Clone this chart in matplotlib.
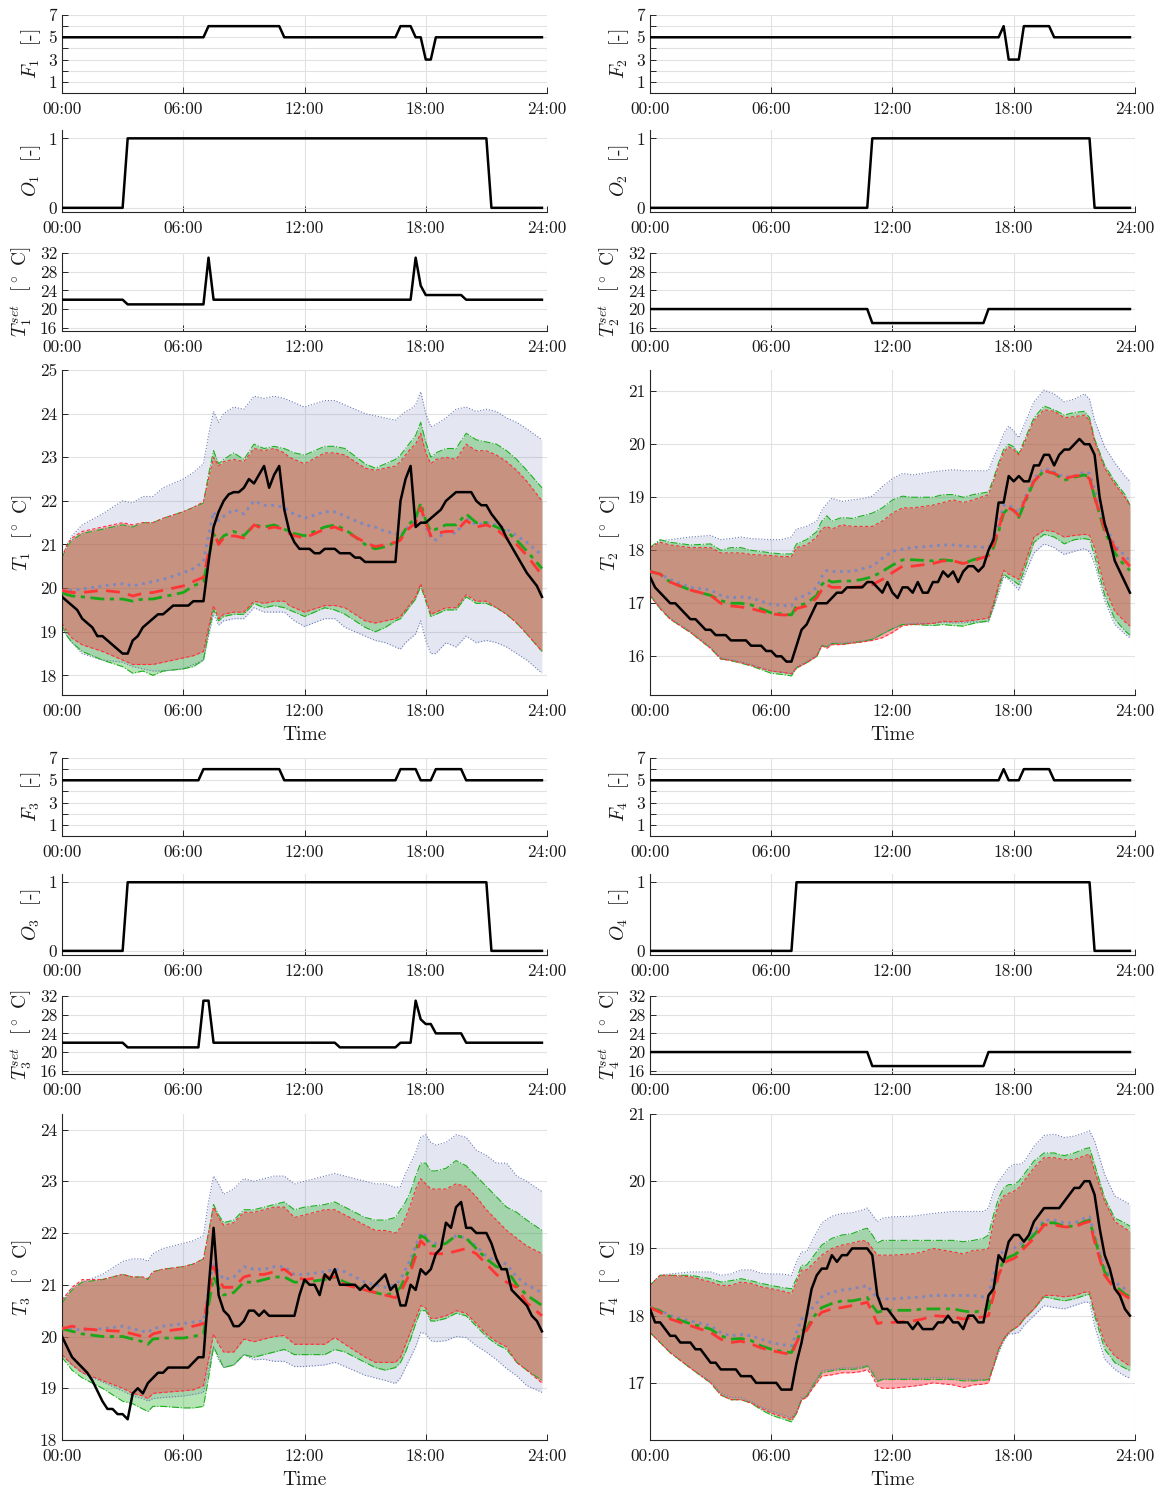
import numpy as np
import matplotlib
matplotlib.use("Agg")
import matplotlib.pyplot as plt

plt.rcParams["font.family"] = ["cmr10", "DejaVu Serif"]
plt.rcParams["mathtext.fontset"] = "cm"
plt.rcParams["axes.unicode_minus"] = False
plt.rcParams["axes.formatter.use_mathtext"] = True

# ---------------- data ----------------
t15 = np.arange(96) * 0.25          # 15-min samples 00:00 .. 23:45
time_ticks = [0, 6, 12, 18, 24]
time_labels = ["00:00", "06:00", "12:00", "18:00", "24:00"]

# step signals: levels and number of 15-min samples
F1_lv = [5, 6, 5, 6, 5, 3, 5];            F1_n = [29, 15, 23, 3, 2, 2, 22]
F2_lv = [5, 6, 3, 6, 5];                  F2_n = [70, 1, 3, 6, 16]
F3_lv = [5, 6, 5, 6, 5, 6, 5];            F3_n = [28, 16, 23, 4, 3, 6, 16]
F4_lv = [5, 6, 5, 6, 5];                  F4_n = [70, 1, 3, 6, 16]
O1_lv = [0, 1, 0];                        O1_n = [13, 72, 11]
O2_lv = [0, 1, 0];                        O2_n = [44, 44, 8]
O3_lv = [0, 1, 0];                        O3_n = [13, 72, 11]
O4_lv = [0, 1, 0];                        O4_n = [29, 59, 8]
S1_lv = [22, 21, 31, 22, 31, 25, 23, 22]; S1_n = [13, 16, 1, 40, 1, 1, 8, 16]
S2_lv = [20, 17, 20];                     S2_n = [44, 23, 29]
S3_lv = [22, 21, 31, 22, 21, 22, 31, 27, 26, 24, 22]
S3_n = [13, 15, 2, 25, 12, 3, 1, 1, 2, 6, 16]
S4_lv = [20, 17, 20];                     S4_n = [44, 23, 29]

# ---- zone 1 ----
T1_t = [0, 0.25, 0.5, 1, 2, 3, 3.5, 4, 4.5, 5, 6, 6.5, 7, 7.25, 7.5, 7.75, 8, 8.5, 9, 9.5,
        10, 10.5, 11, 11.25, 11.5, 12, 13, 13.5, 14, 15, 15.5, 16, 16.5, 16.75, 17, 17.25, 17.5, 17.75, 18, 18.25,
        18.5, 19, 19.5, 20, 20.5, 21, 21.5, 22, 22.5, 23, 23.75]
T1_blue_hi = [20.7, 21.0, 21.2, 21.45, 21.7, 22.0, 21.95, 22.1, 22.1, 22.3,
              22.5, 22.65, 22.85, 23.5, 24.05, 23.8, 24.0, 24.15, 24.1, 24.4,
              24.35, 24.4, 24.35, 24.3, 24.25, 24.15, 24.3, 24.3, 24.2, 24.0,
              23.95, 23.9, 23.85, 23.95, 24.05, 24.1, 24.2, 24.5, 24.0, 23.7,
              23.75, 23.9, 24.1, 24.15, 24.05, 24.1, 24.05, 23.9, 23.8, 23.65, 23.4]
T1_green_hi = [20.7, 20.95, 21.1, 21.25, 21.35, 21.45, 21.4, 21.5, 21.5, 21.6,
               21.75, 21.85, 21.95, 22.6, 23.15, 22.85, 22.95, 23.1, 22.95, 23.3,
               23.2, 23.25, 23.2, 23.15, 23.1, 23.05, 23.25, 23.25, 23.2, 22.85,
               22.75, 22.85, 22.95, 23.05, 23.2, 23.35, 23.5, 23.8, 23.35, 23.0,
               23.1, 23.2, 23.2, 23.55, 23.4, 23.35, 23.3, 23.15, 22.95, 22.7, 22.3]
T1_red_hi = [20.7, 21.0, 21.15, 21.3, 21.4, 21.5, 21.45, 21.5, 21.5, 21.6,
             21.75, 21.85, 21.98, 22.5, 23.0, 22.8, 22.9, 22.95, 22.9, 23.2,
             23.15, 23.2, 23.1, 23.0, 22.95, 22.85, 23.1, 23.1, 23.05, 22.75,
             22.7, 22.75, 22.8, 22.9, 23.05, 23.2, 23.3, 23.55, 23.1, 22.85,
             22.95, 23.0, 22.95, 23.3, 23.15, 23.15, 23.05, 22.9, 22.7, 22.45, 22.0]
T1_blue_lo = [19.1, 18.9, 18.75, 18.5, 18.35, 18.3, 18.2, 18.15, 18.1, 18.1,
              18.15, 18.25, 18.35, 18.9, 19.4, 19.15, 19.25, 19.3, 19.3, 19.55,
              19.45, 19.45, 19.45, 19.35, 19.25, 19.12, 19.3, 19.3, 19.1, 18.9,
              18.8, 18.75, 18.65, 18.6, 18.75, 18.85, 18.95, 19.25, 18.8, 18.5,
              18.5, 18.75, 18.65, 18.9, 18.75, 18.8, 18.75, 18.65, 18.5, 18.35, 18.05]
T1_green_lo = [19.15, 18.9, 18.75, 18.55, 18.35, 18.2, 18.05, 18.1, 18.0, 18.1,
               18.15, 18.2, 18.35, 19.0, 19.5, 19.25, 19.35, 19.4, 19.4, 19.65,
               19.55, 19.6, 19.55, 19.5, 19.45, 19.35, 19.55, 19.5, 19.4, 19.1,
               19.0, 19.1, 19.25, 19.3, 19.45, 19.6, 19.75, 20.05, 19.7, 19.35,
               19.4, 19.5, 19.5, 19.8, 19.65, 19.65, 19.55, 19.4, 19.2, 18.95, 18.55]
T1_red_lo = [19.2, 19.0, 18.85, 18.7, 18.55, 18.35, 18.25, 18.25, 18.25, 18.3,
             18.4, 18.45, 18.55, 19.1, 19.6, 19.3, 19.4, 19.45, 19.45, 19.7,
             19.65, 19.7, 19.7, 19.6, 19.55, 19.45, 19.6, 19.6, 19.55, 19.25,
             19.2, 19.25, 19.3, 19.35, 19.5, 19.65, 19.8, 20.1, 19.75, 19.4,
             19.45, 19.55, 19.55, 19.85, 19.7, 19.7, 19.55, 19.4, 19.2, 18.95, 18.55]
T1_red_mean = [19.95, 19.92, 19.9, 19.9, 19.95, 19.9, 19.82, 19.88, 19.9, 19.95,
               20.05, 20.15, 20.25, 20.8, 21.3, 21.0, 21.15, 21.2, 21.15, 21.45,
               21.35, 21.4, 21.35, 21.25, 21.2, 21.15, 21.35, 21.4, 21.3, 21.05,
               20.95, 21.0, 21.05, 21.1, 21.3, 21.4, 21.5, 21.85, 21.5, 21.2,
               21.25, 21.3, 21.3, 21.55, 21.4, 21.45, 21.35, 21.15, 21.0, 20.75, 20.3]
T1_green_mean = [19.9, 19.85, 19.82, 19.8, 19.75, 19.75, 19.7, 19.75, 19.75, 19.8,
                 19.9, 20.05, 20.15, 20.7, 21.25, 21.05, 21.2, 21.3, 21.2, 21.45,
                 21.4, 21.45, 21.35, 21.3, 21.25, 21.2, 21.4, 21.45, 21.35, 21.0,
                 20.9, 20.95, 21.05, 21.15, 21.35, 21.5, 21.6, 21.95, 21.55, 21.3,
                 21.35, 21.45, 21.45, 21.7, 21.5, 21.5, 21.4, 21.3, 21.1, 20.85, 20.45]
T1_blue_mean = [19.95, 19.95, 19.95, 19.98, 20.05, 20.1, 20.05, 20.1, 20.15, 20.2,
                20.35, 20.45, 20.6, 21.2, 21.75, 21.55, 21.65, 21.8, 21.7, 22.0,
                21.9, 21.9, 21.85, 21.75, 21.7, 21.6, 21.75, 21.75, 21.65, 21.45,
                21.4, 21.3, 21.25, 21.2, 21.35, 21.45, 21.6, 21.9, 21.4, 21.15,
                21.1, 21.3, 21.25, 21.6, 21.45, 21.5, 21.45, 21.35, 21.2, 21.05, 20.75]
T1_meas = [19.8, 19.7, 19.6, 19.5, 19.3, 19.2, 19.1, 18.9,
           18.9, 18.8, 18.7, 18.6, 18.5, 18.5, 18.8, 18.9,
           19.1, 19.2, 19.3, 19.4, 19.4, 19.5, 19.6, 19.6,
           19.6, 19.6, 19.7, 19.7, 19.7, 20.6, 21.4, 21.75,
           22.0, 22.15, 22.2, 22.2, 22.3, 22.5, 22.4, 22.6,
           22.8, 22.3, 22.6, 22.8, 21.8, 21.3, 21.05, 20.9,
           20.9, 20.9, 20.8, 20.8, 20.9, 20.9, 20.9, 20.8,
           20.8, 20.8, 20.7, 20.7, 20.6, 20.6, 20.6, 20.6,
           20.6, 20.6, 20.6, 22.0, 22.5, 22.8, 21.4, 21.5,
           21.5, 21.6, 21.7, 21.8, 22.0, 22.1, 22.2, 22.2,
           22.2, 22.2, 22.0, 21.9, 21.9, 21.7, 21.55, 21.4,
           21.15, 20.95, 20.75, 20.55, 20.35, 20.2, 20.05, 19.8]

# ---- zone 2 ----
T2_t = [0, 0.5, 1, 2, 3, 3.5, 4, 4.5, 5, 6, 6.5, 7, 7.25, 7.75, 8.25, 8.5, 8.75, 9, 9.5, 10,
        10.5, 11, 11.5, 12, 12.5, 13, 14, 14.5, 15, 15.5, 16, 16.75, 17, 17.25, 17.5, 17.75, 18, 18.25, 18.5, 19,
        19.5, 20, 20.5, 21, 21.5, 21.75, 22, 22.5, 23, 23.5, 23.75]
T2_blue_hi = [18.05, 18.18, 18.2, 18.25, 18.28, 18.2, 18.22, 18.25, 18.22, 18.2,
              18.2, 18.25, 18.4, 18.45, 18.55, 18.75, 18.88, 18.98, 18.92, 18.95,
              18.97, 19.02, 19.2, 19.35, 19.45, 19.42, 19.48, 19.5, 19.52, 19.5,
              19.5, 19.5, 19.75, 19.95, 20.2, 20.34, 20.25, 20.12, 20.35, 20.8,
              21.02, 20.95, 20.8, 20.85, 20.95, 20.85, 20.45, 19.95, 19.65, 19.4, 19.3]
T2_green_hi = [18.05, 18.2, 18.15, 18.1, 18.12, 18.0, 18.05, 18.05, 18.0, 17.95,
               17.93, 17.93, 18.12, 18.2, 18.35, 18.55, 18.65, 18.55, 18.62, 18.6,
               18.65, 18.7, 18.8, 18.95, 19.02, 19.0, 19.0, 19.05, 19.05, 19.0,
               19.05, 19.1, 19.35, 19.65, 19.9, 20.0, 19.95, 19.82, 20.05, 20.5,
               20.72, 20.65, 20.55, 20.6, 20.62, 20.5, 20.1, 19.6, 19.3, 19.05, 18.85]
T2_red_hi = [18.05, 18.15, 18.1, 18.05, 18.05, 17.95, 17.95, 17.95, 17.92, 17.9,
             17.88, 17.88, 18.05, 18.1, 18.25, 18.4, 18.45, 18.4, 18.48, 18.45,
             18.45, 18.45, 18.55, 18.7, 18.8, 18.8, 18.85, 18.9, 18.95, 18.9,
             18.95, 19.05, 19.3, 19.6, 19.85, 19.95, 19.9, 19.8, 20.0, 20.45,
             20.65, 20.62, 20.5, 20.52, 20.55, 20.45, 20.05, 19.55, 19.25, 19.0, 18.85]
T2_blue_lo = [17.15, 16.92, 16.72, 16.47, 16.17, 15.97, 15.94, 15.9, 15.85, 15.72,
              15.7, 15.67, 15.8, 15.9, 16.02, 16.22, 16.18, 16.25, 16.25, 16.27,
              16.29, 16.32, 16.42, 16.52, 16.6, 16.62, 16.62, 16.64, 16.63, 16.63,
              16.65, 16.65, 16.9, 17.2, 17.5, 17.45, 17.35, 17.25, 17.5, 17.95,
              18.12, 18.05, 17.92, 17.98, 18.03, 17.97, 17.75, 17.05, 16.6, 16.42, 16.35]
T2_green_lo = [17.15, 16.9, 16.7, 16.45, 16.15, 15.95, 15.92, 15.87, 15.82, 15.68,
               15.66, 15.63, 15.78, 15.88, 16.0, 16.2, 16.18, 16.24, 16.23, 16.25,
               16.28, 16.32, 16.42, 16.52, 16.6, 16.6, 16.58, 16.6, 16.58, 16.57,
               16.62, 16.67, 16.95, 17.3, 17.55, 17.48, 17.42, 17.35, 17.6, 18.15,
               18.3, 18.25, 18.12, 18.2, 18.22, 18.2, 17.9, 17.15, 16.7, 16.48, 16.4]
T2_red_lo = [17.15, 16.9, 16.7, 16.45, 16.15, 15.95, 15.92, 15.88, 15.83, 15.72,
             15.7, 15.67, 15.78, 15.88, 16.0, 16.2, 16.15, 16.22, 16.22, 16.25,
             16.27, 16.3, 16.35, 16.45, 16.58, 16.6, 16.62, 16.66, 16.65, 16.66,
             16.68, 16.72, 17.0, 17.35, 17.62, 17.55, 17.5, 17.45, 17.7, 18.25,
             18.38, 18.35, 18.25, 18.28, 18.3, 18.28, 18.05, 17.3, 16.85, 16.65, 16.57]
T2_red_mean = [17.6, 17.55, 17.4, 17.25, 17.15, 17.0, 16.95, 16.93, 16.9, 16.8,
               16.78, 16.78, 16.9, 16.95, 17.1, 17.25, 17.35, 17.3, 17.3, 17.3,
               17.32, 17.35, 17.45, 17.58, 17.7, 17.7, 17.75, 17.8, 17.8, 17.75,
               17.8, 17.9, 18.1, 18.4, 18.75, 18.8, 18.75, 18.65, 18.9, 19.3,
               19.5, 19.45, 19.35, 19.4, 19.42, 19.35, 19.0, 18.4, 18.05, 17.8, 17.7]
T2_green_mean = [17.6, 17.55, 17.4, 17.25, 17.15, 17.05, 17.0, 17.0, 16.97, 16.82,
                 16.8, 16.78, 16.95, 17.0, 17.15, 17.35, 17.45, 17.4, 17.42, 17.42,
                 17.45, 17.5, 17.6, 17.72, 17.82, 17.82, 17.8, 17.82, 17.8, 17.75,
                 17.82, 17.9, 18.05, 18.35, 18.7, 18.8, 18.75, 18.62, 18.85, 19.3,
                 19.5, 19.45, 19.32, 19.38, 19.42, 19.38, 19.0, 18.35, 17.95, 17.7, 17.62]
T2_blue_mean = [17.6, 17.55, 17.45, 17.3, 17.25, 17.15, 17.1, 17.12, 17.1, 16.98,
                16.96, 16.95, 17.1, 17.15, 17.3, 17.5, 17.62, 17.6, 17.6, 17.6,
                17.65, 17.7, 17.85, 17.98, 18.02, 18.05, 18.08, 18.1, 18.1, 18.08,
                18.07, 18.05, 18.25, 18.5, 18.85, 18.85, 18.8, 18.7, 18.95, 19.35,
                19.55, 19.48, 19.38, 19.4, 19.48, 19.45, 19.15, 18.5, 18.1, 17.9, 17.8]
T2_meas = [17.5, 17.3, 17.2, 17.1, 17.0, 17.0, 16.9, 16.8,
           16.7, 16.7, 16.6, 16.5, 16.5, 16.4, 16.4, 16.4,
           16.3, 16.3, 16.3, 16.3, 16.2, 16.2, 16.2, 16.1,
           16.1, 16.0, 16.0, 15.9, 15.9, 16.2, 16.5, 16.6,
           16.8, 17.0, 17.0, 17.0, 17.1, 17.2, 17.2, 17.3,
           17.3, 17.3, 17.3, 17.4, 17.4, 17.3, 17.2, 17.4,
           17.2, 17.1, 17.3, 17.3, 17.2, 17.4, 17.2, 17.2,
           17.4, 17.4, 17.6, 17.5, 17.6, 17.4, 17.6, 17.7,
           17.7, 17.6, 17.7, 18.0, 18.2, 18.9, 18.9, 19.4,
           19.3, 19.4, 19.3, 19.3, 19.6, 19.6, 19.8, 19.8,
           19.6, 19.8, 19.9, 19.9, 20.0, 20.1, 20.0, 20.0,
           19.8, 19.0, 18.5, 18.2, 17.8, 17.6, 17.4, 17.2]

# ---- zone 3 ----
T3_t = [0, 0.5, 1, 2, 3, 3.5, 4, 4.25, 4.5, 5, 6, 6.5, 7, 7.25, 7.5, 7.75, 8, 8.5, 9, 9.5,
        10, 10.5, 11, 11.5, 12, 13, 13.5, 14, 15, 15.5, 16, 16.5, 16.75, 17, 17.25, 17.5, 17.75, 18, 18.25, 18.5,
        19, 19.5, 20, 20.5, 21, 21.5, 22, 22.5, 23, 23.75]
T3_blue_hi = [20.7, 20.95, 21.05, 21.2, 21.45, 21.5, 21.5, 21.45, 21.6, 21.7,
              21.8, 21.85, 21.95, 22.6, 23.1, 22.95, 22.75, 22.85, 23.05, 23.0,
              23.05, 23.1, 23.1, 22.95, 23.0, 23.1, 23.15, 23.1, 23.0, 22.95,
              22.95, 22.88, 22.9, 23.15, 23.35, 23.55, 23.85, 23.9, 23.75, 23.7,
              23.75, 23.9, 23.85, 23.6, 23.5, 23.35, 23.35, 23.1, 23.0, 22.8]
T3_green_hi = [20.65, 20.9, 21.05, 21.1, 21.2, 21.15, 21.15, 21.1, 21.25, 21.3,
               21.35, 21.4, 21.5, 22.0, 22.55, 22.35, 22.2, 22.25, 22.45, 22.45,
               22.5, 22.55, 22.6, 22.45, 22.5, 22.55, 22.6, 22.5, 22.3, 22.25,
               22.25, 22.3, 22.45, 22.6, 22.8, 23.1, 23.35, 23.35, 23.2, 23.2,
               23.25, 23.4, 23.3, 23.1, 22.9, 22.7, 22.5, 22.4, 22.25, 22.05]
T3_red_hi = [20.7, 20.95, 21.1, 21.1, 21.2, 21.15, 21.15, 21.12, 21.25, 21.3,
             21.35, 21.4, 21.5, 22.0, 22.5, 22.3, 22.15, 22.2, 22.4, 22.4,
             22.45, 22.5, 22.5, 22.3, 22.35, 22.45, 22.45, 22.35, 22.15, 22.05,
             22.05, 22.0, 22.1, 22.3, 22.55, 22.85, 23.05, 22.95, 22.85, 22.85,
             22.85, 22.95, 22.9, 22.7, 22.45, 22.25, 22.05, 21.9, 21.75, 21.6]
T3_blue_lo = [19.65, 19.45, 19.3, 19.12, 18.95, 18.85, 18.8, 18.75, 18.8, 18.82,
              18.85, 18.88, 18.92, 19.35, 19.8, 19.55, 19.4, 19.45, 19.65, 19.55,
              19.56, 19.52, 19.52, 19.42, 19.42, 19.45, 19.5, 19.42, 19.25, 19.2,
              19.15, 19.09, 19.2, 19.4, 19.6, 19.8, 20.08, 20.05, 19.92, 19.9,
              19.92, 20.0, 19.98, 19.82, 19.7, 19.55, 19.38, 19.24, 19.05, 18.92]
T3_green_lo = [19.6, 19.35, 19.2, 19.0, 18.75, 18.7, 18.6, 18.55, 18.65, 18.65,
               18.62, 18.62, 18.65, 19.2, 19.8, 19.6, 19.4, 19.45, 19.65, 19.6,
               19.65, 19.7, 19.75, 19.65, 19.65, 19.65, 19.75, 19.7, 19.5, 19.4,
               19.35, 19.4, 19.5, 19.7, 19.95, 20.25, 20.5, 20.5, 20.3, 20.3,
               20.35, 20.45, 20.4, 20.2, 20.0, 19.85, 19.75, 19.5, 19.35, 19.15]
T3_red_lo = [19.65, 19.45, 19.3, 19.15, 19.0, 18.9, 18.85, 18.8, 18.9, 18.92,
             18.95, 18.97, 19.05, 19.55, 20.05, 19.85, 19.7, 19.7, 19.95, 19.9,
             19.95, 20.0, 20.02, 19.85, 19.85, 19.85, 19.98, 19.85, 19.6, 19.5,
             19.5, 19.5, 19.6, 19.85, 20.1, 20.35, 20.6, 20.55, 20.35, 20.35,
             20.4, 20.5, 20.45, 20.25, 20.05, 19.9, 19.8, 19.5, 19.35, 19.1]
T3_red_mean = [20.15, 20.2, 20.15, 20.12, 20.1, 20.05, 20.0, 19.97, 20.05, 20.1,
               20.15, 20.2, 20.25, 20.8, 21.35, 21.1, 20.95, 20.95, 21.15, 21.2,
               21.2, 21.25, 21.3, 21.15, 21.1, 21.15, 21.15, 21.0, 20.9, 20.85,
               20.8, 20.75, 20.85, 21.05, 21.25, 21.55, 21.85, 21.75, 21.6, 21.6,
               21.6, 21.65, 21.7, 21.6, 21.4, 21.2, 21.05, 20.95, 20.65, 20.4]
T3_green_mean = [20.15, 20.1, 20.05, 20.0, 20.0, 19.95, 19.9, 19.85, 19.95, 19.97,
                 19.97, 20.0, 20.05, 20.6, 21.15, 20.95, 20.8, 20.85, 21.05, 21.05,
                 21.1, 21.15, 21.15, 21.05, 21.05, 21.1, 21.15, 21.05, 20.9, 20.85,
                 20.8, 20.85, 20.95, 21.15, 21.35, 21.65, 21.95, 21.9, 21.75, 21.75,
                 21.8, 21.95, 21.9, 21.7, 21.5, 21.35, 21.3, 21.0, 20.8, 20.6]
T3_blue_mean = [20.15, 20.15, 20.12, 20.15, 20.2, 20.15, 20.1, 20.08, 20.15, 20.2,
                20.25, 20.28, 20.3, 20.9, 21.45, 21.25, 21.1, 21.15, 21.35, 21.3,
                21.3, 21.35, 21.35, 21.2, 21.2, 21.25, 21.3, 21.25, 21.05, 21.0,
                20.95, 21.0, 21.1, 21.3, 21.5, 21.75, 22.0, 21.95, 21.8, 21.8,
                21.8, 21.95, 21.9, 21.75, 21.55, 21.45, 21.4, 21.15, 21.0, 20.85]
T3_meas = [20.0, 19.8, 19.6, 19.5, 19.4, 19.3, 19.15, 18.95,
           18.75, 18.6, 18.6, 18.5, 18.5, 18.4, 18.9, 19.0,
           18.9, 19.1, 19.2, 19.3, 19.3, 19.4, 19.4, 19.4,
           19.4, 19.4, 19.5, 19.6, 19.6, 20.9, 22.1, 20.8,
           20.5, 20.4, 20.2, 20.2, 20.3, 20.5, 20.5, 20.4,
           20.5, 20.4, 20.4, 20.4, 20.4, 20.4, 20.4, 20.8,
           21.1, 21.0, 21.0, 20.8, 21.2, 21.1, 21.3, 21.0,
           21.0, 21.0, 21.0, 20.9, 21.0, 20.9, 21.0, 21.1,
           21.2, 20.9, 21.0, 20.6, 20.6, 21.0, 20.9, 21.3,
           21.2, 21.3, 21.6, 21.7, 22.2, 22.1, 22.5, 22.6,
           22.1, 22.1, 22.0, 22.0, 22.0, 21.8, 21.5, 21.3,
           21.3, 20.9, 20.8, 20.7, 20.6, 20.4, 20.3, 20.1]

# ---- zone 4 ----
T4_t = [0, 0.5, 1, 2, 3, 3.5, 4, 4.5, 5, 5.5, 6, 6.5, 7, 7.25, 7.5, 7.75, 8, 8.5, 9, 9.5,
        10, 10.5, 10.75, 11, 11.25, 11.5, 12, 13, 13.5, 14, 15, 15.5, 16, 16.5, 16.75, 17, 17.25, 17.5, 17.75, 18,
        18.25, 18.5, 19, 19.5, 20, 20.5, 21, 21.5, 21.75, 22, 22.5, 23, 23.5, 23.75]
T4_blue_hi = [18.45, 18.6, 18.62, 18.65, 18.65, 18.6, 18.62, 18.68, 18.68, 18.63,
              18.62, 18.62, 18.6, 18.8, 18.95, 18.95, 19.1, 19.38, 19.48, 19.52,
              19.53, 19.57, 19.6, 19.5, 19.4, 19.45, 19.47, 19.48, 19.5, 19.52,
              19.55, 19.55, 19.55, 19.55, 19.6, 19.85, 20.0, 20.1, 20.2, 20.25,
              20.25, 20.28, 20.52, 20.68, 20.7, 20.65, 20.67, 20.72, 20.75, 20.6,
              20.1, 19.78, 19.7, 19.65]
T4_green_hi = [18.45, 18.6, 18.6, 18.6, 18.55, 18.5, 18.52, 18.55, 18.52, 18.48,
               18.45, 18.42, 18.4, 18.55, 18.75, 18.75, 18.85, 19.05, 19.15, 19.2,
               19.22, 19.28, 19.3, 19.2, 19.08, 19.12, 19.12, 19.12, 19.12, 19.12,
               19.12, 19.1, 19.12, 19.15, 19.2, 19.5, 19.75, 19.9, 19.95, 19.95,
               20.0, 20.1, 20.3, 20.42, 20.42, 20.38, 20.42, 20.48, 20.5, 20.25,
               19.75, 19.45, 19.38, 19.33]
T4_red_hi = [18.45, 18.6, 18.6, 18.58, 18.5, 18.45, 18.45, 18.5, 18.48, 18.43,
             18.4, 18.37, 18.33, 18.5, 18.68, 18.68, 18.75, 18.9, 19.0, 19.05,
             19.08, 19.12, 19.1, 19.0, 18.9, 18.9, 18.9, 18.92, 18.95, 19.0,
             18.95, 18.92, 18.97, 18.98, 19.0, 19.4, 19.65, 19.78, 19.82, 19.85,
             19.9, 20.0, 20.2, 20.35, 20.35, 20.32, 20.32, 20.38, 20.4, 20.15,
             19.7, 19.4, 19.3, 19.25]
T4_blue_lo = [17.75, 17.6, 17.45, 17.22, 17.02, 16.85, 16.78, 16.78, 16.72, 16.64,
              16.58, 16.53, 16.48, 16.58, 16.78, 16.8, 16.95, 17.18, 17.2, 17.22,
              17.22, 17.24, 17.27, 17.17, 17.04, 17.06, 17.06, 17.07, 17.07, 17.08,
              17.07, 17.06, 17.05, 17.05, 17.05, 17.25, 17.45, 17.62, 17.73, 17.73,
              17.75, 17.85, 18.0, 18.15, 18.12, 18.1, 18.15, 18.2, 18.2, 17.85,
              17.35, 17.2, 17.1, 17.07]
T4_green_lo = [17.75, 17.6, 17.45, 17.22, 17.0, 16.82, 16.75, 16.75, 16.7, 16.6,
               16.52, 16.47, 16.42, 16.55, 16.75, 16.8, 16.92, 17.15, 17.18, 17.2,
               17.2, 17.22, 17.25, 17.15, 17.02, 17.05, 17.05, 17.05, 17.05, 17.05,
               17.05, 17.03, 17.03, 17.04, 17.05, 17.25, 17.5, 17.65, 17.75, 17.8,
               17.85, 17.95, 18.1, 18.28, 18.25, 18.22, 18.25, 18.3, 18.32, 18.0,
               17.5, 17.3, 17.22, 17.18]
T4_red_lo = [17.75, 17.6, 17.45, 17.22, 17.0, 16.82, 16.75, 16.75, 16.7, 16.62,
             16.55, 16.5, 16.45, 16.55, 16.75, 16.78, 16.9, 17.1, 17.12, 17.15,
             17.15, 17.17, 17.2, 17.1, 16.95, 16.92, 16.92, 16.95, 16.97, 17.0,
             16.97, 16.93, 16.97, 16.98, 17.0, 17.25, 17.5, 17.65, 17.75, 17.8,
             17.85, 17.95, 18.1, 18.3, 18.3, 18.28, 18.3, 18.35, 18.35, 18.05,
             17.6, 17.4, 17.3, 17.25]
T4_red_mean = [18.12, 18.05, 17.95, 17.85, 17.75, 17.65, 17.6, 17.62, 17.58, 17.52,
               17.48, 17.45, 17.42, 17.6, 17.75, 17.78, 17.9, 18.05, 18.1, 18.12,
               18.15, 18.18, 18.2, 18.05, 17.88, 17.9, 17.9, 17.92, 17.95, 18.0,
               17.98, 17.95, 17.97, 17.98, 18.0, 18.3, 18.6, 18.78, 18.82, 18.85,
               18.9, 19.0, 19.15, 19.35, 19.35, 19.32, 19.32, 19.38, 19.4, 19.1,
               18.6, 18.4, 18.3, 18.25]
T4_green_mean = [18.12, 18.07, 17.98, 17.88, 17.8, 17.7, 17.65, 17.66, 17.63, 17.55,
                 17.5, 17.47, 17.45, 17.62, 17.78, 17.8, 17.95, 18.12, 18.18, 18.22,
                 18.22, 18.25, 18.27, 18.15, 18.05, 18.07, 18.08, 18.08, 18.1, 18.1,
                 18.1, 18.07, 18.05, 18.08, 18.1, 18.4, 18.65, 18.82, 18.87, 18.9,
                 18.95, 19.05, 19.2, 19.38, 19.38, 19.33, 19.33, 19.4, 19.42, 19.15,
                 18.65, 18.45, 18.32, 18.28]
T4_blue_mean = [18.12, 18.08, 18.0, 17.92, 17.85, 17.75, 17.7, 17.72, 17.7, 17.65,
                17.6, 17.57, 17.55, 17.75, 17.95, 18.0, 18.1, 18.28, 18.35, 18.38,
                18.4, 18.43, 18.45, 18.35, 18.25, 18.25, 18.25, 18.27, 18.28, 18.3,
                18.3, 18.3, 18.3, 18.28, 18.3, 18.6, 18.85, 18.98, 19.0, 19.0,
                19.05, 19.1, 19.25, 19.42, 19.42, 19.38, 19.38, 19.45, 19.47, 19.2,
                18.7, 18.5, 18.4, 18.37]
T4_meas = [18.1, 17.9, 17.9, 17.8, 17.7, 17.7, 17.6, 17.6,
           17.6, 17.5, 17.5, 17.4, 17.3, 17.3, 17.2, 17.2,
           17.2, 17.2, 17.1, 17.1, 17.1, 17.0, 17.0, 17.0,
           17.0, 17.0, 16.9, 16.9, 16.9, 17.3, 17.6, 18.0,
           18.4, 18.6, 18.7, 18.7, 18.9, 18.8, 18.9, 18.9,
           19.0, 19.0, 19.0, 19.0, 18.9, 18.3, 18.1, 18.1,
           18.0, 17.9, 17.9, 17.9, 17.8, 17.9, 17.8, 17.8,
           17.8, 17.9, 17.9, 18.0, 17.9, 17.9, 17.8, 18.0,
           18.0, 17.9, 17.9, 18.3, 18.4, 18.9, 18.8, 19.1,
           19.2, 19.2, 19.1, 19.2, 19.4, 19.5, 19.6, 19.6,
           19.6, 19.6, 19.7, 19.8, 19.9, 19.9, 20.0, 20.0,
           19.8, 19.3, 18.9, 18.7, 18.4, 18.3, 18.1, 18.0]

# ---------------- styling ----------------
FIG_W, FIG_H = 1166, 1490
AX_W = 485
COL_X = [62, 650]
ROWS_A = [(15, 93), (130, 212), (253, 331), (370, 695)]
ROWS_B = [(758, 836), (874, 955), (996, 1074), (1114, 1440)]

C_BLUE = "#6c7cb6"
C_GREEN = "#1fb01f"
C_RED = "#ff2f3e"
C_AX = "#262626"

fig = plt.figure(figsize=(FIG_W / 100, FIG_H / 100), dpi=100)


def make_ax(col, row):
    top, bot = row
    x0 = COL_X[col]
    return fig.add_axes([x0 / FIG_W, 1 - bot / FIG_H, AX_W / FIG_W, (bot - top) / FIG_H])


def style(ax, ylim, yticks, ylabels, ylabel, xlabel=False):
    ax.set_xlim(0, 24)
    ax.set_xticks(time_ticks)
    ax.set_xticklabels(time_labels)
    ax.set_ylim(*ylim)
    ax.set_yticks(yticks)
    ax.set_yticklabels(ylabels)
    for s in ("top", "right"):
        ax.spines[s].set_visible(False)
    for s in ("left", "bottom"):
        ax.spines[s].set_color(C_AX)
        ax.spines[s].set_linewidth(0.8)
    ax.tick_params(direction="in", length=4, width=0.7, colors=C_AX,
                   labelsize=12.5, labelcolor="#1a1a1a")
    ax.tick_params(axis="x", pad=6)
    ax.grid(True, color="#e2e2e2", lw=0.8)
    ax.set_axisbelow(True)
    ax.set_ylabel(ylabel, fontsize=14, color="#1a1a1a")
    if xlabel:
        ax.set_xlabel("Time", fontsize=14, color="#1a1a1a", labelpad=5)


def step_panel(ax, lv, n):
    ax.plot(t15, np.repeat(lv, n), color="black", lw=1.8, zorder=3)


def temp_panel(ax, t, bhi, blo, ghi, glo, rhi, rlo, bm, gm, rm, meas):
    ax.fill_between(t, blo, bhi, color=C_BLUE, alpha=0.18, lw=0, zorder=1)
    ax.fill_between(t, glo, ghi, color=C_GREEN, alpha=0.33, lw=0, zorder=1.1)
    ax.fill_between(t, rlo, rhi, color=C_RED, alpha=0.40, lw=0, zorder=1.2)
    for y in (bhi, blo):
        ax.plot(t, y, color=C_BLUE, lw=0.8, ls=":", zorder=2)
    for y in (ghi, glo):
        ax.plot(t, y, color=C_GREEN, lw=0.8, ls="-.", zorder=2.1)
    for y in (rhi, rlo):
        ax.plot(t, y, color=C_RED, lw=0.8, ls="--", dashes=(3, 2), zorder=2.2)
    ax.plot(t, bm, color="#7b88c2", lw=2.0, ls=":", zorder=3)
    ax.plot(t, gm, color="#18a818", lw=2.0, ls="-.", dashes=(5, 2, 1.5, 2), zorder=3.1)
    ax.plot(t, rm, color="#ff3535", lw=2.0, ls="--", dashes=(5, 3), zorder=3.2)
    ax.plot(t15, meas, color="black", lw=1.8, zorder=4)


F_ticks = [1, 2, 3, 4, 5, 6, 7]
F_labels = ["1", "", "3", "", "5", "", "7"]
S_ticks = [16, 20, 24, 28, 32]

zones = [
    (0, ROWS_A, 1, F1_lv, F1_n, O1_lv, O1_n, S1_lv, S1_n,
     (T1_t, T1_blue_hi, T1_blue_lo, T1_green_hi, T1_green_lo, T1_red_hi, T1_red_lo,
      T1_blue_mean, T1_green_mean, T1_red_mean, T1_meas), (17.55, 25.0), list(range(18, 26))),
    (1, ROWS_A, 2, F2_lv, F2_n, O2_lv, O2_n, S2_lv, S2_n,
     (T2_t, T2_blue_hi, T2_blue_lo, T2_green_hi, T2_green_lo, T2_red_hi, T2_red_lo,
      T2_blue_mean, T2_green_mean, T2_red_mean, T2_meas), (15.27, 21.4), list(range(16, 22))),
    (0, ROWS_B, 3, F3_lv, F3_n, O3_lv, O3_n, S3_lv, S3_n,
     (T3_t, T3_blue_hi, T3_blue_lo, T3_green_hi, T3_green_lo, T3_red_hi, T3_red_lo,
      T3_blue_mean, T3_green_mean, T3_red_mean, T3_meas), (18.0, 24.3), list(range(18, 25))),
    (1, ROWS_B, 4, F4_lv, F4_n, O4_lv, O4_n, S4_lv, S4_n,
     (T4_t, T4_blue_hi, T4_blue_lo, T4_green_hi, T4_green_lo, T4_red_hi, T4_red_lo,
      T4_blue_mean, T4_green_mean, T4_red_mean, T4_meas), (16.15, 21.0), list(range(17, 22))),
]

for col, rows, k, flv, fn, olv, on, slv, sn, tdata, tlim, tticks in zones:
    axF = make_ax(col, rows[0])
    step_panel(axF, flv, fn)
    style(axF, (0, 7), F_ticks, F_labels, r"$F_%d$  [-]" % k)

    axO = make_ax(col, rows[1])
    step_panel(axO, olv, on)
    style(axO, (-0.06, 1.12), [0, 1], ["0", "1"], r"$O_%d$  [-]" % k)

    axS = make_ax(col, rows[2])
    step_panel(axS, slv, sn)
    style(axS, (15.3, 32), S_ticks, [str(v) for v in S_ticks],
          r"$T_%d^{set}$  [$^\circ$ C]" % k)

    axT = make_ax(col, rows[3])
    temp_panel(axT, *tdata)
    style(axT, tlim, tticks, [str(v) for v in tticks],
          r"$T_%d$  [$^\circ$ C]" % k, xlabel=True)

fig.savefig("out.png", dpi=100)
